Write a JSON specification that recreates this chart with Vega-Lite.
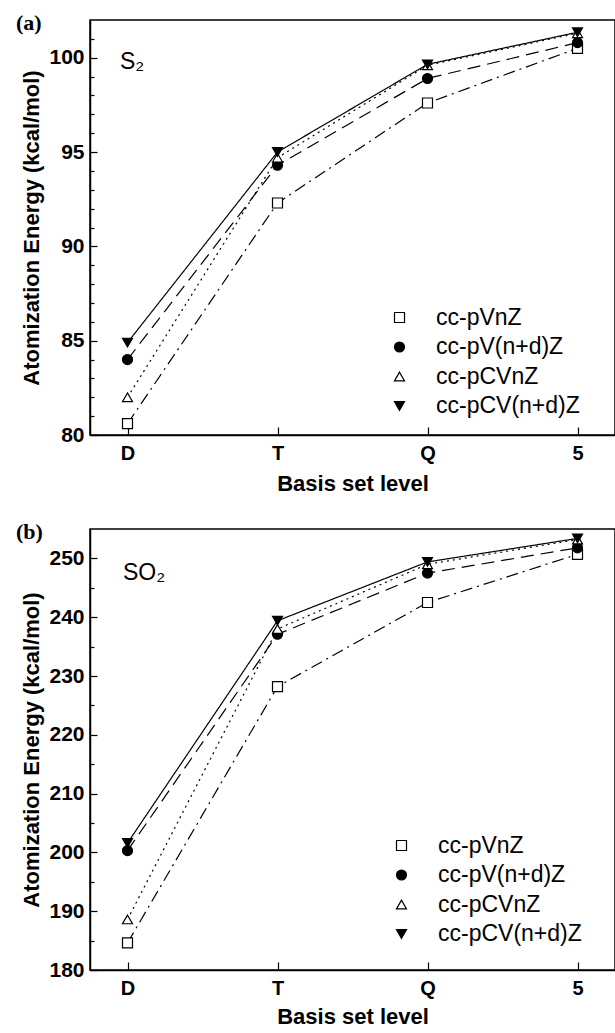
{
  "$schema": "https://vega.github.io/schema/vega-lite/v6.json",
  "background": "white",
  "padding": {"left": 15, "top": 11, "right": 0, "bottom": 0},
  "spacing": 25,
  "resolve": {"scale": {"fill": "independent", "shape": "independent", "stroke": "independent", "strokeDash": "independent"}},
  "config": {
    "font": "Liberation Sans",
    "view": {"stroke": "black", "strokeWidth": 1.5},
    "axis": {
      "domainColor": "black", "domainWidth": 1.5, "tickColor": "black", "tickWidth": 1.2,
      "labelColor": "black", "titleColor": "black", "labelFont": "Liberation Sans", "titleFont": "Liberation Sans",
      "labelFontWeight": "bold", "titleFontWeight": "bold", "labelFontSize": 21, "titleFontSize": 22, "grid": false
    },
    "legend": {
      "labelFont": "Liberation Sans", "labelFontSize": 23, "labelColor": "black", "labelLimit": 400
    }
  },
  "datasets": {
    "s2": [
      {"series": "cc-pVnZ", "level": 1, "energy": 80.6},
      {"series": "cc-pVnZ", "level": 2, "energy": 92.3},
      {"series": "cc-pVnZ", "level": 3, "energy": 97.6},
      {"series": "cc-pVnZ", "level": 4, "energy": 100.5},
      {"series": "cc-pV(n+d)Z", "level": 1, "energy": 84.0},
      {"series": "cc-pV(n+d)Z", "level": 2, "energy": 94.3},
      {"series": "cc-pV(n+d)Z", "level": 3, "energy": 98.9},
      {"series": "cc-pV(n+d)Z", "level": 4, "energy": 100.8},
      {"series": "cc-pCVnZ", "level": 1, "energy": 82.0},
      {"series": "cc-pCVnZ", "level": 2, "energy": 94.7},
      {"series": "cc-pCVnZ", "level": 3, "energy": 99.6},
      {"series": "cc-pCVnZ", "level": 4, "energy": 101.3},
      {"series": "cc-pCV(n+d)Z", "level": 1, "energy": 84.9},
      {"series": "cc-pCV(n+d)Z", "level": 2, "energy": 95.0},
      {"series": "cc-pCV(n+d)Z", "level": 3, "energy": 99.65},
      {"series": "cc-pCV(n+d)Z", "level": 4, "energy": 101.35}
    ],
    "so2": [
      {"series": "cc-pVnZ", "level": 1, "energy": 184.6},
      {"series": "cc-pVnZ", "level": 2, "energy": 228.2},
      {"series": "cc-pVnZ", "level": 3, "energy": 242.5},
      {"series": "cc-pVnZ", "level": 4, "energy": 250.7},
      {"series": "cc-pV(n+d)Z", "level": 1, "energy": 200.3},
      {"series": "cc-pV(n+d)Z", "level": 2, "energy": 237.1},
      {"series": "cc-pV(n+d)Z", "level": 3, "energy": 247.5},
      {"series": "cc-pV(n+d)Z", "level": 4, "energy": 251.8},
      {"series": "cc-pCVnZ", "level": 1, "energy": 188.6},
      {"series": "cc-pCVnZ", "level": 2, "energy": 238.0},
      {"series": "cc-pCVnZ", "level": 3, "energy": 249.0},
      {"series": "cc-pCVnZ", "level": 4, "energy": 253.2},
      {"series": "cc-pCV(n+d)Z", "level": 1, "energy": 201.6},
      {"series": "cc-pCV(n+d)Z", "level": 2, "energy": 239.4},
      {"series": "cc-pCV(n+d)Z", "level": 3, "energy": 249.4},
      {"series": "cc-pCV(n+d)Z", "level": 4, "energy": 253.4}
    ],
    "label_a": [{"label": "S₂", "level": 0.95, "energy": 99.8}],
    "label_b": [{"label": "SO₂", "level": 0.97, "energy": 247.6}]
  },
  "vconcat": [
    {
      "width": 525, "height": 415,
      "title": {"text": "(a)", "anchor": "start", "frame": "group", "offset": -15, "dx": -74, "font": "Liberation Serif", "fontSize": 22, "fontWeight": "bold", "color": "black"},
      "data": {"name": "s2"},
      "layer": [
        {
          "mark": {"type": "line", "color": "black", "strokeWidth": 1.2, "strokeCap": "butt"},
          "encoding": {
            "x": {"field": "level", "type": "quantitative", "scale": {"domain": [0.75, 4.25], "nice": false, "zero": false},
                  "axis": {"values": [1, 2, 3, 4], "labelExpr": "datum.value === 1 ? 'D' : datum.value === 2 ? 'T' : datum.value === 3 ? 'Q' : '5'", "title": "Basis set level", "tickSize": -8, "labelPadding": 16, "titlePadding": 10, "labelFontSize": 20}},
            "y": {"field": "energy", "type": "quantitative", "scale": {"domain": [80, 102], "nice": false, "zero": false},
                  "axis": {"values": [80, 85, 90, 95, 100], "title": "Atomization Energy (kcal/mol)", "tickSize": -7, "labelPadding": 13, "titlePadding": 5}},
            "strokeDash": {"field": "series", "type": "nominal",
                  "sort": ["cc-pVnZ", "cc-pV(n+d)Z", "cc-pCVnZ", "cc-pCV(n+d)Z"],
                  "scale": {"range": [[12, 5, 2, 5], [13, 7], [2, 4], [1, 0]]},
                  "legend": null}
          }
        },
        {
          "mark": {"type": "point", "strokeWidth": 1.2, "size": 100, "filled": false, "opacity": 1},
          "encoding": {
            "x": {"field": "level", "type": "quantitative"},
            "y": {"field": "energy", "type": "quantitative",
                  "axis": {"orient": "left", "values": [81, 82, 83, 84, 86, 87, 88, 89, 91, 92, 93, 94, 96, 97, 98, 99, 101], "labels": false, "domain": false, "tickSize": -4, "title": null}},
            "stroke": {"field": "series", "type": "nominal",
                  "scale": {"domain": ["cc-pVnZ", "cc-pV(n+d)Z", "cc-pCVnZ", "cc-pCV(n+d)Z"], "range": ["black", "black", "black", "black"]}},
            "fill": {"field": "series", "type": "nominal",
                  "scale": {"domain": ["cc-pVnZ", "cc-pV(n+d)Z", "cc-pCVnZ", "cc-pCV(n+d)Z"], "range": ["white", "black", "white", "black"]}},
            "shape": {"field": "series", "type": "nominal",
                  "scale": {"domain": ["cc-pVnZ", "cc-pV(n+d)Z", "cc-pCVnZ", "cc-pCV(n+d)Z"], "range": ["square", "circle", "triangle-up", "triangle-down"]},
                  "legend": {"title": null, "orient": "none", "legendX": 298, "legendY": 286, "padding": 0,
                             "symbolSize": 100, "symbolStrokeWidth": 1.2, "symbolStrokeColor": "black", "symbolOpacity": 1,
                             "labelOffset": 25, "rowPadding": 5.5}}
          }
        },
        {
          "data": {"name": "label_a"},
          "mark": {"type": "text", "align": "left", "baseline": "middle", "fontSize": 23, "font": "Liberation Sans", "color": "black"},
          "encoding": {
            "x": {"field": "level", "type": "quantitative"},
            "y": {"field": "energy", "type": "quantitative", "axis": null},
            "text": {"field": "label"}
          }
        }
      ],
      "resolve": {"axis": {"y": "independent"}}
    },
    {
      "width": 525, "height": 441,
      "title": {"text": "(b)", "anchor": "start", "frame": "group", "offset": -15, "dx": -74, "font": "Liberation Serif", "fontSize": 22, "fontWeight": "bold", "color": "black"},
      "data": {"name": "so2"},
      "layer": [
        {
          "mark": {"type": "line", "color": "black", "strokeWidth": 1.2, "strokeCap": "butt"},
          "encoding": {
            "x": {"field": "level", "type": "quantitative", "scale": {"domain": [0.75, 4.25], "nice": false, "zero": false},
                  "axis": {"values": [1, 2, 3, 4], "labelExpr": "datum.value === 1 ? 'D' : datum.value === 2 ? 'T' : datum.value === 3 ? 'Q' : '5'", "title": "Basis set level", "tickSize": -8, "labelPadding": 16, "titlePadding": 8, "labelFontSize": 20}},
            "y": {"field": "energy", "type": "quantitative", "scale": {"domain": [180, 255], "nice": false, "zero": false},
                  "axis": {"values": [180, 190, 200, 210, 220, 230, 240, 250], "title": "Atomization Energy (kcal/mol)", "tickSize": -7, "labelPadding": 13, "titlePadding": 5}},
            "strokeDash": {"field": "series", "type": "nominal",
                  "sort": ["cc-pVnZ", "cc-pV(n+d)Z", "cc-pCVnZ", "cc-pCV(n+d)Z"],
                  "scale": {"range": [[12, 5, 2, 5], [13, 7], [2, 4], [1, 0]]},
                  "legend": null}
          }
        },
        {
          "mark": {"type": "point", "strokeWidth": 1.2, "size": 100, "filled": false, "opacity": 1},
          "encoding": {
            "x": {"field": "level", "type": "quantitative"},
            "y": {"field": "energy", "type": "quantitative",
                  "axis": {"orient": "left", "values": [185, 195, 205, 215, 225, 235, 245], "labels": false, "domain": false, "tickSize": -4, "title": null}},
            "stroke": {"field": "series", "type": "nominal",
                  "scale": {"domain": ["cc-pVnZ", "cc-pV(n+d)Z", "cc-pCVnZ", "cc-pCV(n+d)Z"], "range": ["black", "black", "black", "black"]}},
            "fill": {"field": "series", "type": "nominal",
                  "scale": {"domain": ["cc-pVnZ", "cc-pV(n+d)Z", "cc-pCVnZ", "cc-pCV(n+d)Z"], "range": ["white", "black", "white", "black"]}},
            "shape": {"field": "series", "type": "nominal",
                  "scale": {"domain": ["cc-pVnZ", "cc-pV(n+d)Z", "cc-pCVnZ", "cc-pCV(n+d)Z"], "range": ["square", "circle", "triangle-up", "triangle-down"]},
                  "legend": {"title": null, "orient": "none", "legendX": 300, "legendY": 305, "padding": 0,
                             "symbolSize": 100, "symbolStrokeWidth": 1.2, "symbolStrokeColor": "black", "symbolOpacity": 1,
                             "labelOffset": 25, "rowPadding": 5.5}}
          }
        },
        {
          "data": {"name": "label_b"},
          "mark": {"type": "text", "align": "left", "baseline": "middle", "fontSize": 23, "font": "Liberation Sans", "color": "black"},
          "encoding": {
            "x": {"field": "level", "type": "quantitative"},
            "y": {"field": "energy", "type": "quantitative", "axis": null},
            "text": {"field": "label"}
          }
        }
      ],
      "resolve": {"axis": {"y": "independent"}}
    }
  ]
}
